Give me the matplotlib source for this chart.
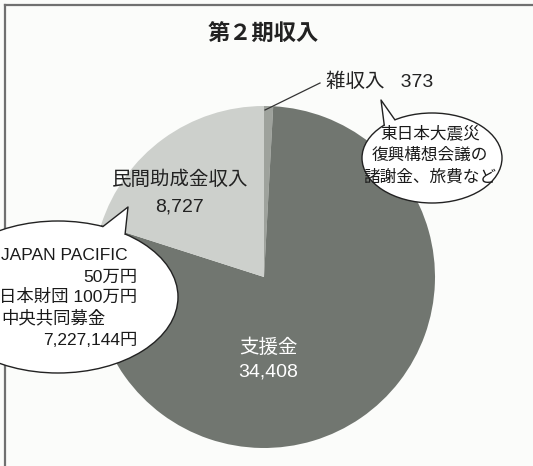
import numpy as np
import matplotlib
matplotlib.use("Agg")
import matplotlib.pyplot as plt
from matplotlib.patches import Ellipse, Polygon

plt.rcParams['font.family'] = ['Liberation Sans', 'Noto Sans CJK JP', 'DejaVu Sans']

# ---- data ----
title = "第２期収入"
categories = ["雑収入", "支援金", "民間助成金収入"]
values = [373, 34408, 8727]
colors = ["#9ea29c", "#717670", "#cdd0cc"]
left_note = ["JAPAN PACIFIC", "50万円", "日本財団 100万円", "中央共同募金", "7,227,144円"]
right_note = ["東日本大震災", "復興構想会議の", "諸謝金、旅費など"]

W, H = 533, 466
fig = plt.figure(figsize=(W / 100, H / 100), dpi=100)
fig.patch.set_facecolor("#fbfcfa")
ax = fig.add_axes([0, 0, 1, 1])

def Y(y):
    return H - y

# pie
cx, cy, r = 264, 277, 171
ax.pie(values, colors=colors, startangle=90, counterclock=False,
       center=(cx, Y(cy)), radius=r, frame=True,
       wedgeprops=dict(edgecolor="none", linewidth=0))
ax.set_xlim(0, W)
ax.set_ylim(0, H)
ax.set_aspect("equal")
ax.axis("off")

# frame (top and left visible)
ax.plot([5, 5], [Y(5), Y(470)], color="#707070", lw=1.6, zorder=1)
ax.plot([5, 540], [Y(5), Y(5)], color="#707070", lw=1.6, zorder=1)

# title
ax.text(263, Y(35), title, ha="center", va="center", fontsize=16,
        fontweight="bold", color="#222222")

# labels
ax.text(326, Y(82), f"{categories[0]}   {values[0]:,}", ha="left", va="center",
        fontsize=14, color="#222222")
ax.plot([320, 265], [Y(83), Y(110)], color="#333333", lw=0.9)

ax.text(180, Y(180), categories[2], ha="center", va="center", fontsize=14, color="#222222")
ax.text(179, Y(207), f"{values[2]:,}", ha="center", va="center", fontsize=14, color="#222222")

ax.text(268, Y(348), categories[1], ha="center", va="center", fontsize=14, color="white")
ax.text(268, Y(372), f"{values[1]:,}", ha="center", va="center", fontsize=14, color="white")


def bubble(ecx, ecy, a, b, tip, t1, t2):
    e = Ellipse((ecx, Y(ecy)), 2 * a, 2 * b, facecolor="white",
                edgecolor="#222222", lw=1.0, zorder=5)
    ax.add_patch(e)
    p1 = (ecx + a * np.cos(np.radians(t1)), Y(ecy - b * np.sin(np.radians(t1))))
    p2 = (ecx + a * np.cos(np.radians(t2)), Y(ecy - b * np.sin(np.radians(t2))))
    q1 = (ecx + 0.9 * a * np.cos(np.radians(t1)), Y(ecy - 0.9 * b * np.sin(np.radians(t1))))
    q2 = (ecx + 0.9 * a * np.cos(np.radians(t2)), Y(ecy - 0.9 * b * np.sin(np.radians(t2))))
    tp = (tip[0], Y(tip[1]))
    poly = Polygon([q1, p1, tp, p2, q2], closed=True, facecolor="white",
                   edgecolor="none", zorder=6)
    ax.add_patch(poly)
    ax.plot([p1[0], tp[0], p2[0]], [p1[1], tp[1], p2[1]], color="#222222",
            lw=1.0, zorder=7)

# left bubble
bubble(58, 297, 120, 76, (128, 207), 56, 68)
lx_left, lx_right = 1, 137
ys = [255, 277, 297, 318, 340]
aligns = ["left", "right", "right", "left", "right"]
for txt, yy, al in zip(left_note, ys, aligns):
    ax.text(lx_left if al == "left" else lx_right, Y(yy), txt, ha=al, va="center",
            fontsize=12.5, color="#1a1a1a", zorder=8)

# right bubble
bubble(432, 158, 70, 45, (381, 100), 122, 133)
for txt, yy in zip(right_note, [133, 155, 177]):
    ax.text(430, Y(yy), txt, ha="center", va="center", fontsize=12,
            color="#1a1a1a", zorder=8)

fig.savefig("out.png", dpi=100, facecolor=fig.get_facecolor())
